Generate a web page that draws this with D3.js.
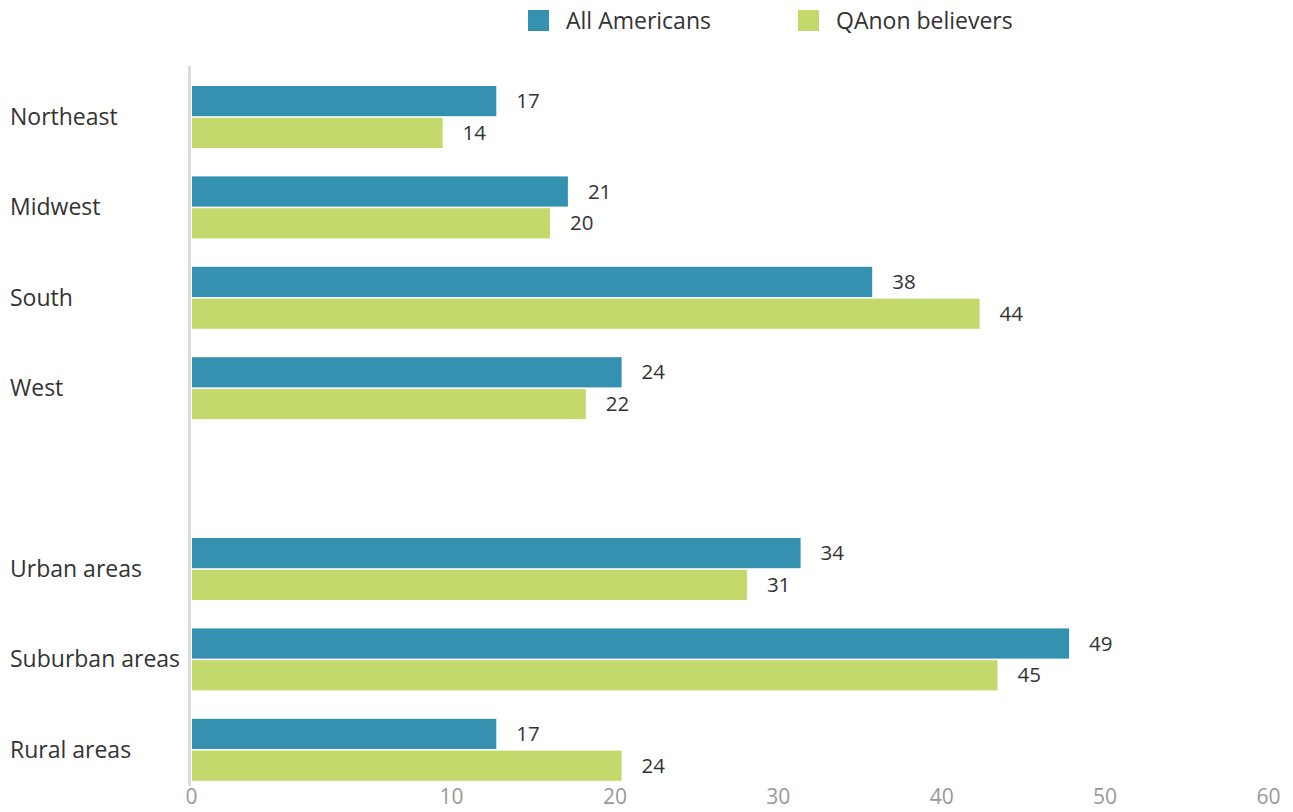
<!DOCTYPE html>
<html><head><meta charset="utf-8">
<script src="https://cdn.jsdelivr.net/npm/d3@7"></script>
<style>body{margin:0;background:#fff;font-family:"Open Sans",sans-serif;}</style>
</head><body><svg id="c" width="1293" height="812"></svg>
<script>
const categories = ["Northeast","Midwest","South","West","","Urban areas","Suburban areas","Rural areas"];
const seriesNames = ["All Americans","QAnon believers"];
const allAmericans = [17,21,38,24,null,34,49,17];
const qanonBelievers = [14,20,44,22,null,31,45,24];
const tickValues = [0,10,20,30,40,50,60];
const colors = ["#3492b0","#c3d96b"];

const svg = d3.select("#c");
const x = d3.scaleLinear().domain([0,60]).range([192,1266]);
// the reference's tick labels sit at uneven positions
const xTicks = d3.scaleLinear().domain([0,10,60]).range([191,451,1268]);
const y = d3.scaleBand().domain(d3.range(categories.length)).range([71.8,71.8+8*90.4]).paddingInner(0.314).paddingOuter(0.157);
const ySub = d3.scaleBand().domain([0,1]).range([0,y.bandwidth()]).paddingInner(0.05);

const series = [allAmericans, qanonBelievers];

// axis line
svg.append("line").attr("x1",189.5).attr("x2",189.5).attr("y1",66).attr("y2",786)
  .attr("stroke","#dcdcdc").attr("stroke-width",3);

// bars
series.forEach((vals,si)=>{
  const g = svg.append("g");
  vals.forEach((v,i)=>{
    if(v==null) return;
    const yy = y(i)+ySub(si);
    g.append("rect").attr("x",x(0)).attr("y",yy).attr("width",x(v)-x(0)).attr("height",ySub.bandwidth())
      .attr("fill",colors[si]);
    g.append("text").attr("x",x(v)+20).attr("y",yy+ySub.bandwidth()/2).attr("dy","0.35em")
      .attr("font-size",20.5).attr("fill","#333").text(v);
  });
});

// category labels
categories.forEach((c,i)=>{
  if(!c) return;
  svg.append("text").attr("x",10).attr("y",y(i)+y.bandwidth()/2).attr("dy","0.35em")
    .attr("font-size",23).attr("fill","#333").text(c);
});

// x axis labels
const ax = svg.append("g").attr("transform","translate(0,782)")
  .call(d3.axisBottom(xTicks).tickValues(tickValues).tickSize(0).tickPadding(7));
ax.select(".domain").remove();
ax.selectAll("text").attr("font-size",21).attr("fill","#999").attr("font-family","Open Sans");

// legend
const legX = [528,798];
seriesNames.forEach((s,i)=>{
  svg.append("rect").attr("x",legX[i]).attr("y",10).attr("width",21).attr("height",21).attr("fill",colors[i]);
  svg.append("text").attr("x",legX[i]+38).attr("y",21).attr("dy","0.35em").attr("font-size",23).attr("fill","#333").text(s);
});
</script></body></html>
